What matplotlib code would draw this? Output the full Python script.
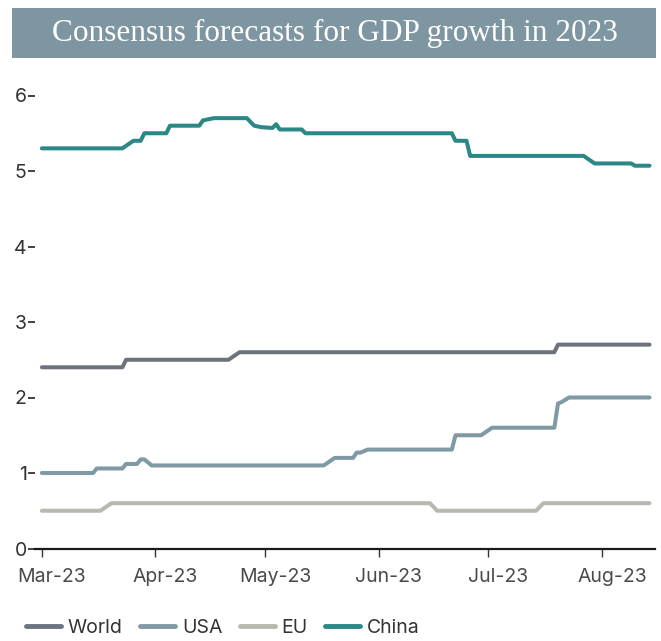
import matplotlib
matplotlib.use("Agg")
import matplotlib.pyplot as plt
import matplotlib.transforms as mtransforms
from matplotlib.patches import Rectangle
import pandas as pd

title = "Consensus forecasts for GDP growth in 2023"

china_dates = ["2023-03-01", "2023-03-23", "2023-03-26", "2023-03-28", "2023-03-29", "2023-04-04",
               "2023-04-05", "2023-04-13", "2023-04-14", "2023-04-17", "2023-04-26", "2023-04-28",
               "2023-04-30", "2023-05-03", "2023-05-04", "2023-05-05", "2023-05-11", "2023-05-12",
               "2023-06-21", "2023-06-22", "2023-06-25", "2023-06-26", "2023-07-27", "2023-07-30",
               "2023-08-09", "2023-08-10", "2023-08-14"]
china_vals = [5.3, 5.3, 5.4, 5.4, 5.5, 5.5,
              5.6, 5.6, 5.67, 5.7, 5.7, 5.6,
              5.58, 5.57, 5.62, 5.55, 5.55, 5.5,
              5.5, 5.4, 5.4, 5.2, 5.2, 5.1,
              5.1, 5.07, 5.07]

world_dates = ["2023-03-01", "2023-03-23", "2023-03-24", "2023-04-21", "2023-04-24",
               "2023-07-19", "2023-07-20", "2023-08-14"]
world_vals = [2.4, 2.4, 2.5, 2.5, 2.6, 2.6, 2.7, 2.7]

usa_dates = ["2023-03-01", "2023-03-15", "2023-03-16", "2023-03-23", "2023-03-24", "2023-03-27",
             "2023-03-28", "2023-03-29", "2023-03-31", "2023-05-17", "2023-05-20", "2023-05-25",
             "2023-05-26", "2023-05-27", "2023-05-29", "2023-06-21", "2023-06-22", "2023-06-29",
             "2023-07-02", "2023-07-19", "2023-07-20", "2023-07-21", "2023-07-23", "2023-08-14"]
usa_vals = [1.0, 1.0, 1.06, 1.06, 1.12, 1.12,
            1.18, 1.18, 1.1, 1.1, 1.2, 1.2,
            1.27, 1.27, 1.31, 1.31, 1.5, 1.5,
            1.6, 1.6, 1.92, 1.94, 2.0, 2.0]

eu_dates = ["2023-03-01", "2023-03-17", "2023-03-20", "2023-06-15", "2023-06-17",
            "2023-07-14", "2023-07-16", "2023-08-14"]
eu_vals = [0.5, 0.5, 0.6, 0.6, 0.5, 0.5, 0.6, 0.6]

series_names = ["World", "USA", "EU", "China"]
series_colors = ["#6d737d", "#7f9aa5", "#b7b9b0", "#2c8787"]

xtick_dates = ["2023-03-01", "2023-04-01", "2023-05-01", "2023-06-01", "2023-07-01", "2023-08-01"]
xtick_labels = ["Mar-23", "Apr-23", "May-23", "Jun-23", "Jul-23", "Aug-23"]
yticks = [0, 1, 2, 3, 4, 5, 6]

W, H = 661, 641
fig = plt.figure(figsize=(W / 100, H / 100), dpi=100)

# title banner
banner = Rectangle((12 / W, 1 - 58 / H), (656 - 12) / W, 50 / H, transform=fig.transFigure,
                   facecolor="#7d96a1", edgecolor="none")
fig.patches.append(banner)
fig.text(335 / W, 1 - 33 / H, title, ha="center", va="center", color="white",
         fontsize=22.5, family="Liberation Serif")

ax = fig.add_axes([35 / W, 1 - 548.5 / H, 620 / W, (548.5 - 80.4) / H])

data = [(world_dates, world_vals), (usa_dates, usa_vals), (eu_dates, eu_vals), (china_dates, china_vals)]
for (d, v), name, c in zip(data, series_names, series_colors):
    ax.plot(pd.to_datetime(d), v, color=c, lw=2.9, label=name, solid_capstyle="round",
            solid_joinstyle="round")

ax.set_ylim(0, 6.2)
ax.set_xlim(pd.Timestamp("2023-02-27 03:00"), pd.Timestamp("2023-08-15 12:00"))
ax.set_yticks(yticks)
ax.set_yticklabels([str(t) for t in yticks])
ax.set_xticks(pd.to_datetime(xtick_dates))
ax.set_xticklabels(xtick_labels)

for s in ["top", "right", "left"]:
    ax.spines[s].set_visible(False)
ax.spines["bottom"].set_color("#1a1a1a")
ax.spines["bottom"].set_linewidth(1.6)

ax.tick_params(axis="y", length=5, width=1.3, color="#333333", pad=1,
               labelsize=14, labelcolor="#333333")
ax.tick_params(axis="x", length=6, width=1.0, color="#333333", pad=8,
               labelsize=14, labelcolor="#4a4a4a")
shift = mtransforms.ScaledTranslation(10 / 100, 0, fig.dpi_scale_trans)
for lab in ax.get_xticklabels():
    lab.set_family("Inter")
    lab.set_transform(lab.get_transform() + shift)
for lab in ax.get_yticklabels():
    lab.set_family("Inter")

leg = fig.legend(loc="center left", bbox_to_anchor=(26 / W, 1 - 628 / H), ncol=4, frameon=False,
                 borderpad=0, borderaxespad=0, handlelength=1.8, handletextpad=0.35,
                 columnspacing=0.9, prop={"family": "Inter", "size": 14})
for t in leg.get_texts():
    t.set_color("#333333")
for h in leg.legend_handles:
    h.set_linewidth(3.5)

fig.savefig("out.png", dpi=100)
